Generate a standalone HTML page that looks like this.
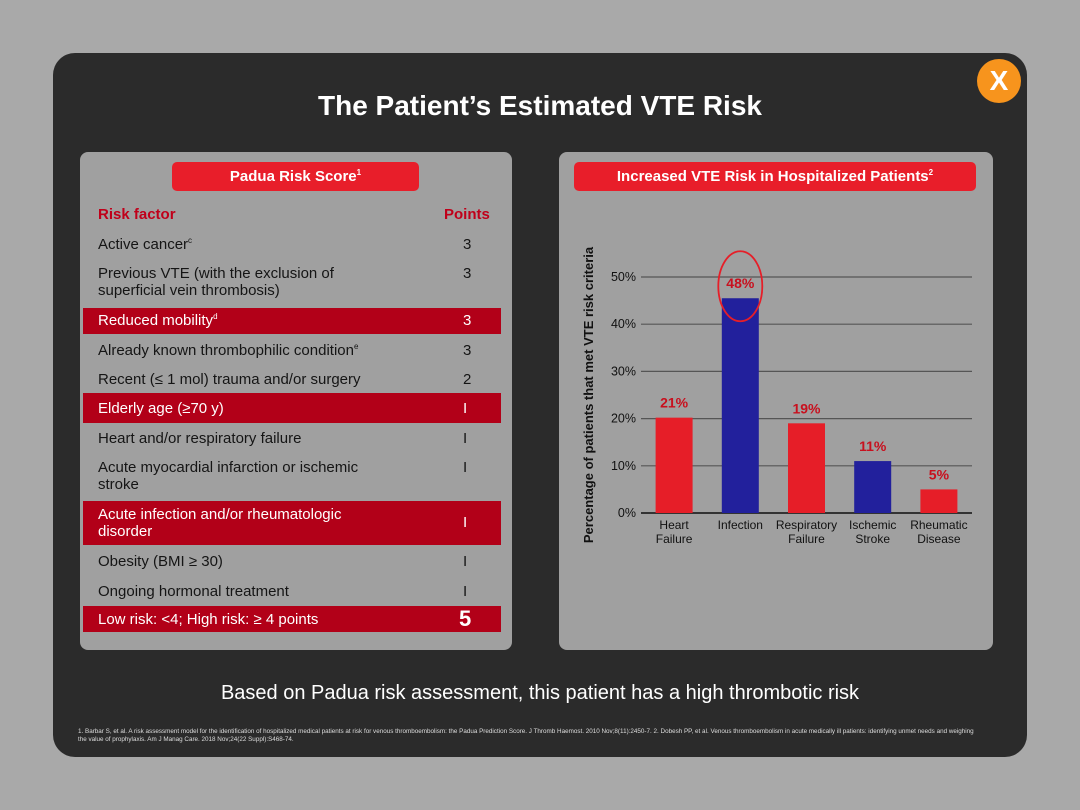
<!DOCTYPE html>
<html><head><meta charset="utf-8"><style>
*{margin:0;padding:0;box-sizing:border-box}
body{width:1080px;height:810px;background:#a9a9a9;font-family:"Liberation Sans",sans-serif;position:relative;overflow:hidden}
.abs{position:absolute}
#panel{left:53px;top:53px;width:974px;height:704px;background:#2b2b2b;border-radius:22px}
.card{background:#a0a0a0;border-radius:8px;top:152px;height:498px}
.pill{background:#e81e2a;color:#fff;font-weight:bold;font-size:15px;text-align:center;border-radius:5px;height:29px;line-height:29px}
.row{left:83px;width:418px;font-size:15px;color:#151515;line-height:17px}
.row .t{position:absolute;left:15px;top:0}
.row .p{position:absolute;left:380px;top:0}
.band{background:#b20018;color:#fff}
sup{font-size:8px;vertical-align:6px;line-height:0}
</style></head><body>
<div id="panel" class="abs"></div>
<div class="abs" style="left:977px;top:59px;width:44px;height:44px;border-radius:50%;background:#f7941d;color:#fff;font-weight:bold;font-size:28px;text-align:center;line-height:44px">X</div>
<div class="abs" style="left:0;width:1080px;top:90px;text-align:center;color:#fff;font-weight:bold;font-size:28px">The Patient’s Estimated VTE Risk</div>

<div class="abs card" style="left:80px;width:432px"></div>
<div class="abs pill" style="left:172px;top:162px;width:247px">Padua Risk Score<sup>1</sup></div>
<div class="abs" style="left:98px;top:206px;color:#c0001a;font-weight:bold;font-size:15px">Risk factor</div>
<div class="abs" style="left:444px;top:206px;color:#c0001a;font-weight:bold;font-size:15px">Points</div>

<div class="abs row" style="top:236px;height:20px"><span class="t">Active cancer<sup>c</sup></span><span class="p">3</span></div>
<div class="abs row" style="top:265px;height:36px"><span class="t">Previous VTE (with the exclusion of<br>superficial vein thrombosis)</span><span class="p">3</span></div>
<div class="abs row band" style="top:308px;height:26px"><span class="t" style="top:4px">Reduced mobility<sup>d</sup></span><span class="p" style="top:4px">3</span></div>
<div class="abs row" style="top:342px;height:20px"><span class="t">Already known thrombophilic condition<sup>e</sup></span><span class="p">3</span></div>
<div class="abs row" style="top:371px;height:20px"><span class="t">Recent (≤ 1 mol) trauma and/or surgery</span><span class="p">2</span></div>
<div class="abs row band" style="top:393px;height:30px"><span class="t" style="top:7px">Elderly age (≥70 y)</span><span class="p" style="top:7px">I</span></div>
<div class="abs row" style="top:430px;height:20px"><span class="t">Heart and/or respiratory failure</span><span class="p">I</span></div>
<div class="abs row" style="top:459px;height:36px"><span class="t">Acute myocardial infarction or ischemic<br>stroke</span><span class="p">I</span></div>
<div class="abs row band" style="top:501px;height:44px"><span class="t" style="top:5px">Acute infection and/or rheumatologic<br>disorder</span><span class="p" style="top:13px">I</span></div>
<div class="abs row" style="top:553px;height:20px"><span class="t">Obesity (BMI ≥ 30)</span><span class="p">I</span></div>
<div class="abs row" style="top:583px;height:20px"><span class="t">Ongoing hormonal treatment</span><span class="p">I</span></div>
<div class="abs row band" style="top:606px;height:26px"><span class="t" style="top:5px">Low risk: &lt;4; High risk: ≥ 4 points</span><span class="p" style="top:1px;left:376px;font-size:22px;font-weight:bold;line-height:24px">5</span></div>

<div class="abs card" style="left:559px;width:434px"></div>
<div class="abs pill" style="left:574px;top:162px;width:402px">Increased VTE Risk in Hospitalized Patients<sup>2</sup></div>
<svg class="abs" style="left:0;top:0" width="1080" height="810">
<text transform="translate(593,395) rotate(-90)" text-anchor="middle" font-size="13" font-weight="bold" fill="#111">Percentage of patients that met VTE risk criteria</text>
<g id="g"></g>
</svg>
<div class="abs" style="left:0;width:1080px;top:682px;text-align:center;color:#fff;font-size:20px">Based on Padua risk assessment, this patient has a high thrombotic risk</div>
<div class="abs" style="left:78px;top:728px;width:900px;color:#ddd;font-size:6.3px;line-height:8px">1. Barbar S, et al. A risk assessment model for the identification of hospitalized medical patients at risk for venous thromboembolism: the Padua Prediction Score. J Thromb Haemost. 2010 Nov;8(11):2450-7. 2. Dobesh PP, et al. Venous thromboembolism in acute medically ill patients: identifying unmet needs and weighing the value of prophylaxis. Am J Manag Care. 2018 Nov;24(22 Suppl):S468-74.</div>
<script>
const categories=[["Heart","Failure"],["Infection"],["Respiratory","Failure"],["Ischemic","Stroke"],["Rheumatic","Disease"]];
const values=[20.2,45.5,19,11,5];
const valueLabels=["21%","48%","19%","11%","5%"];
const barColors=["#e61e28","#22209c","#e61e28","#22209c","#e61e28"];
const ticks=[0,10,20,30,40,50];
const NS="http://www.w3.org/2000/svg";
const g=document.getElementById('g');
const x0=641,x1=972,y0=513,yTop=277;
const y=v=>y0-(v/50)*(y0-yTop);
const band=(x1-x0)/categories.length;
const xc=i=>x0+band*(i+0.5);
function mk(t,a){const e=document.createElementNS(NS,t);for(const k in a)e.setAttribute(k,a[k]);g.appendChild(e);return e;}
ticks.forEach(t=>{
 const l=mk('line',{x1:x0,x2:x1,y1:y(t),y2:y(t),stroke:t===0?'#333':'#555','stroke-width':t===0?2:1.2});
 
 
 const tx=mk('text',{x:636,y:y(t)+4,'text-anchor':'end','font-size':12.5,fill:'#111'});tx.textContent=t+'%';
 
 
});
values.forEach((v,i)=>{
 const r=mk('rect',{x:xc(i)-18.5,y:y(v),width:37,height:y0-y(v),fill:barColors[i]});
 
 
 const lt=mk('text',{x:xc(i),y:y(v)-10,'text-anchor':'middle','font-size':14,'font-weight':'bold',fill:'#c8101e'});lt.textContent=valueLabels[i];
 
 
 categories[i].forEach((w,j)=>{
  const c=mk('text',{x:xc(i),y:529+j*14,'text-anchor':'middle','font-size':12,fill:'#111'});c.textContent=w;
  
  
 });
});
const hi=values.indexOf(Math.max(...values));
const el=mk('ellipse',{cx:xc(hi),cy:y(values[hi])-12,rx:22,ry:35,fill:'none',stroke:'#e61e28','stroke-width':1.8});


</script>
</body></html>
